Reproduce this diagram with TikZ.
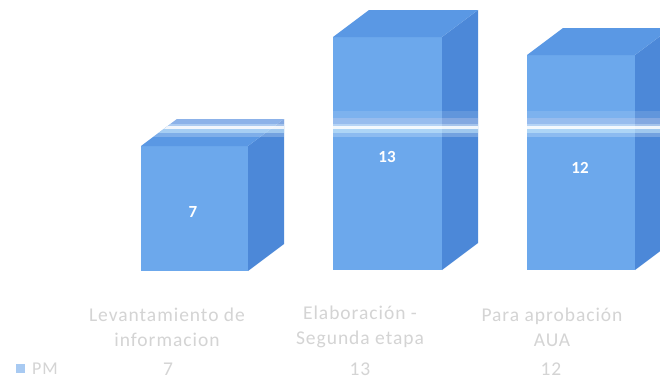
\documentclass[tikz,border=0pt]{standalone}
\usepackage{fontspec}
\setmainfont{Carlito}
\newfontfamily\labfont[LetterSpace=5]{Carlito}
\definecolor{frontc}{HTML}{6CA8EC}
\definecolor{sidec}{HTML}{4C88D8}
\definecolor{topc}{HTML}{5A98E4}
\definecolor{labc}{HTML}{D4D4D4}
\definecolor{legc}{HTML}{A8CAF2}
\newcommand\mybar[4]{%
  \fill[frontc] (#1,#3) rectangle (#2,#4);
  \fill[sidec] (#2,#3) -- (#2+36,#3-27) -- (#2+36,#4-27) -- (#2,#4) -- cycle;
  \fill[topc] (#1,#3) -- (#1+36,#3-27) -- (#2+36,#3-27) -- (#2,#3) -- cycle;
}
\newcommand\myoutline[4]{(#1,#4) -- (#1,#3) -- (#1+36,#3-27) -- (#2+36,#3-27) -- (#2+36,#4-27) -- (#2,#4) -- cycle}
\begin{document}
\begin{tikzpicture}[x=1pt,y=-1pt,
  barnum/.style={text=white,font=\fontsize{17}{20}\selectfont\bfseries,inner sep=0pt},
  catlab/.style={text=labc,font=\labfont\fontsize{19.5}{25}\selectfont,align=center,inner sep=0pt},
  vallab/.style={text=labc,font=\labfont\fontsize{19.5}{22}\selectfont,inner sep=0pt}]
\useasboundingbox (0,0) rectangle (660,380);
\fill[white] (0,0) rectangle (660,380);
% bars
\mybar{141}{248}{146}{271}
\mybar{333}{442}{37}{270}
\mybar{527}{635}{55}{270}
% horizontal light band
\begin{scope}
  \clip \myoutline{141}{248}{146}{271} \myoutline{333}{442}{37}{270} \myoutline{527}{635}{55}{270};
  \fill[white,opacity=0.12] (0,111) rectangle (660,118);
  \fill[legc!60!violet!20!white,opacity=0.35] (0,118) rectangle (660,124);
  \fill[white,opacity=0.5] (0,124) rectangle (660,126);
  \fill[white,opacity=0.92] (0,126) rectangle (660,129);
  \fill[cyan!15!white,opacity=0.6] (0,129) rectangle (660,133);
  \fill[white,opacity=0.22] (0,133) rectangle (660,137);
\end{scope}
% bar values
\node[barnum] (n1) at (193,212) {7};
\node[barnum] (n2) at (387,157) {13};
\node[barnum] (n3) at (580,168) {12};
% category labels
\node[catlab] (c1) at (167,327) {Levantamiento de\\informacion};
\node[catlab] (c2) at (360,327) {Elaboración -\\Segunda etapa};
\node[catlab] (c3) at (552,327) {Para aprobación\\AUA};
% value row
\node[vallab] (v1) at (168,369) {7};
\node[vallab] (v2) at (360,369) {13};
\node[vallab] (v3) at (551,369) {12};
% legend
\fill[legc] (16,364) rectangle (25,373);
\node[vallab,anchor=west,font=\labfont\fontsize{18}{21}\selectfont] (pm) at (32,369) {PM};
\end{tikzpicture}
\end{document}
